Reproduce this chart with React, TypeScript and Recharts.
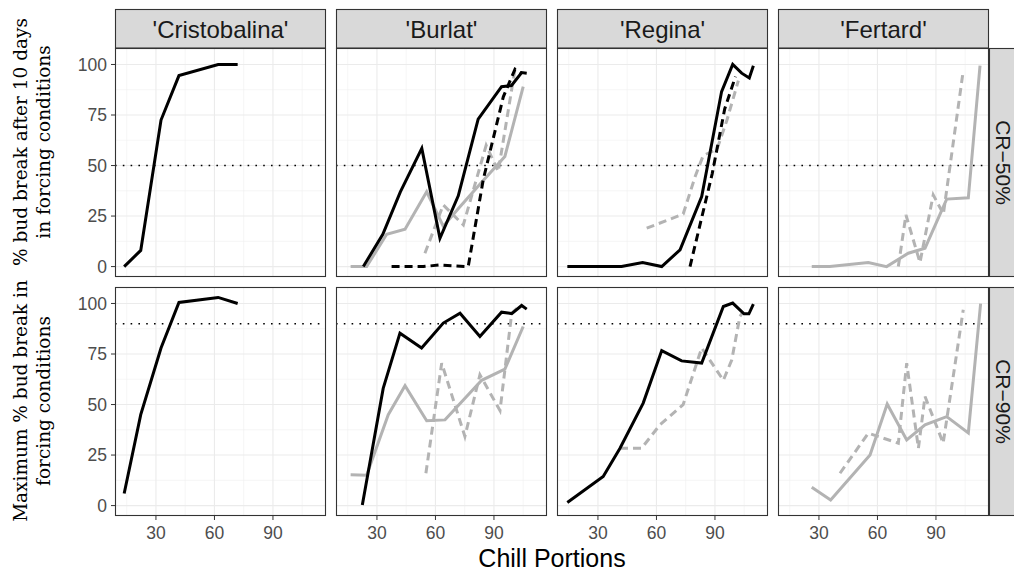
import React from "react";
import { CartesianGrid, Line, LineChart, ReferenceLine, XAxis, YAxis } from "recharts";

type Pt = [number, number];

const cultivars = ["'Cristobalina'", "'Burlat'", "'Regina'", "'Fertard'"];
const rowLabels = ["CR\u221250%", "CR\u221290%"];
const thresholds = [50, 90];
const xTicks = [30, 60, 90];
const xMinor = [15, 45, 75, 105];
const yTicks = [0, 25, 50, 75, 100];
const yMinor = [12.5, 37.5, 62.5, 87.5];

// CR-50% row: [chill portions, % bud break]
const cristobalina50Black: Pt[] = [[13.7, 0], [22.2, 8], [32.6, 72.5], [41.8, 94.5], [61.9, 100], [71.9, 100]];

const burlat50Black: Pt[] = [[23, 0], [33, 16], [42, 37], [53, 58.5], [62.3, 14], [71.7, 35], [81.9, 73], [93.9, 89], [99, 89.6], [104.2, 96], [106.8, 95.7]];
const burlat50Grey: Pt[] = [[16.5, 0], [24.7, 0], [35, 16], [44.4, 18.5], [55.5, 37], [64, 20], [72, 29], [83, 41], [95.6, 54.5], [105, 89]];
const burlat50BlackDash: Pt[] = [[37.5, 0], [53.7, 0], [62.3, 0.8], [70.9, 0.3], [76.8, 0], [84.5, 43], [94.8, 84], [100.8, 97.7], [104, 95.7]];
const burlat50GreyDash: Pt[] = [[54.6, 6.6], [64, 30.5], [74.3, 20.6], [86, 60], [92.2, 47], [100.8, 97.7]];

const regina50Black: Pt[] = [[14.3, 0], [42.1, 0], [52.9, 2], [62.7, 0], [72.1, 8.3], [83.2, 34.7], [93.4, 86.6], [99.1, 100], [103.7, 95.7], [107.6, 93.3], [109.7, 99.4]];
const regina50BlackDash: Pt[] = [[77.2, 0], [88.6, 46], [95, 78], [100.5, 94]];
const regina50GreyDash: Pt[] = [[55, 19], [73.7, 26], [80, 45], [84, 55], [91, 58], [96, 72], [102, 92]];

const fertard50Grey: Pt[] = [[26.3, 0], [35.6, 0], [55.3, 2], [64.7, 0], [75.8, 6.6], [84.4, 9.1], [95.5, 33.4], [106.6, 34], [112.6, 99.4]];
const fertard50GreyDash: Pt[] = [[70.7, 0], [74.6, 25.6], [81.8, 2], [88.6, 35.5], [93.8, 26], [104, 97]];

// CR-90% row
const cristobalina90Black: Pt[] = [[13.7, 6], [22.2, 45], [32.6, 78], [41.8, 100.5], [61.9, 103], [71.9, 100]];

const burlat90Black: Pt[] = [[22.5, 0.3], [33.2, 58], [41.8, 85.3], [52.9, 78], [64, 90.3], [72.6, 95.2], [82.8, 83.7], [93.9, 95.7], [99.1, 95], [104.2, 99], [106.8, 97.2]];
const burlat90Grey: Pt[] = [[16.5, 15.2], [24.7, 15], [35.8, 45], [44.4, 59.3], [55.5, 42], [64.9, 42.4], [83.7, 62], [95.6, 67.5], [105, 88.6]];
const burlat90GreyDash: Pt[] = [[55.1, 16], [63.2, 70.5], [75.1, 34.2], [82.8, 64.7], [93.1, 47], [99.1, 95.2], [103.3, 99]];

const regina90Black: Pt[] = [[14.3, 1.5], [32.7, 14.4], [41.3, 28.4], [53.2, 50.7], [62.7, 76.7], [72.9, 71.6], [83.2, 70.5], [94.3, 98.5], [99.1, 100.2], [104.9, 94.9], [107.4, 94.9], [109.7, 99.7]];
const regina90GreyDash: Pt[] = [[41.3, 28.4], [52.4, 28.4], [61.8, 40], [73.7, 50], [83.2, 78], [94.3, 62], [98.6, 72], [102.8, 93.6], [104.5, 96]];

const fertard90Grey: Pt[] = [[26.3, 9.1], [36, 2.8], [56.2, 25], [65, 50.3], [75, 32.5], [84.4, 40], [95.5, 44], [106.6, 36], [112.9, 99.9]];
const fertard90GreyDash: Pt[] = [[40.8, 16], [55.3, 35.8], [70.7, 30.9], [75, 70.5], [81, 28.4], [84.4, 54], [93.7, 30.9], [104, 96.9]];

const BLACK = "#000000";
const GREY = "#b3b3b3";

type Series = { pts: Pt[]; color: string; dashed: boolean };

const s = (pts: Pt[], color: string, dashed: boolean): Series => ({ pts, color, dashed });

// drawn in order: grey dashed, grey solid, black dashed, black solid
const panels: Series[][][] = [
  [
    [s(cristobalina50Black, BLACK, false)],
    [s(burlat50GreyDash, GREY, true), s(burlat50Grey, GREY, false), s(burlat50BlackDash, BLACK, true), s(burlat50Black, BLACK, false)],
    [s(regina50GreyDash, GREY, true), s(regina50BlackDash, BLACK, true), s(regina50Black, BLACK, false)],
    [s(fertard50GreyDash, GREY, true), s(fertard50Grey, GREY, false)],
  ],
  [
    [s(cristobalina90Black, BLACK, false)],
    [s(burlat90GreyDash, GREY, true), s(burlat90Grey, GREY, false), s(burlat90Black, BLACK, false)],
    [s(regina90GreyDash, GREY, true), s(regina90Black, BLACK, false)],
    [s(fertard90GreyDash, GREY, true), s(fertard90Grey, GREY, false)],
  ],
];

const PANEL_LEFT = [115, 336, 557, 778];
const PANEL_W = 211;
const ROW_TOP = [48, 287];
const PANEL_H = 229;
const X_DOMAIN: [number, number] = [9, 117.2];
const Y_DOMAIN: [number, number] = [-5.15, 108.15];
const Y_AXIS_W = 45;
const X_AXIS_H = 30;

const SANS = "'Liberation Sans', Arimo, Helvetica, Arial, sans-serif";
const SERIF = "'DejaVu Serif', 'Liberation Serif', serif";

const tickStyle = { fill: "#4d4d4d", fontSize: 17.5, fontFamily: SANS };

function Panel({ row, col }: { row: number; col: number }) {
  const showY = col === 0;
  const showX = row === 1;
  const yW = showY ? Y_AXIS_W : 0;
  const xH = showX ? X_AXIS_H : 0;
  return (
    <div style={{ position: "absolute", left: PANEL_LEFT[col] - yW, top: ROW_TOP[row] }}>
      <LineChart width={PANEL_W + yW} height={PANEL_H + xH} margin={{ top: 0, right: 0, bottom: 0, left: 0 }}>
        <CartesianGrid horizontalValues={yMinor} verticalValues={xMinor} stroke="#f0f0f0" strokeWidth={0.6} />
        <CartesianGrid horizontalValues={yTicks} verticalValues={xTicks} stroke="#ebebeb" strokeWidth={1.1} />
        <XAxis
          type="number"
          dataKey="x"
          domain={X_DOMAIN}
          ticks={xTicks}
          interval={0}
          allowDataOverflow
          hide={!showX}
          height={X_AXIS_H}
          axisLine={false}
          tickSize={4}
          tickMargin={7}
          tickLine={{ stroke: "#333333" }}
          tick={tickStyle}
        />
        <YAxis
          type="number"
          domain={Y_DOMAIN}
          ticks={yTicks}
          interval={0}
          allowDataOverflow
          hide={!showY}
          width={Y_AXIS_W}
          axisLine={false}
          tickSize={4}
          tickMargin={4}
          tickLine={{ stroke: "#333333" }}
          tick={tickStyle}
        />
        <ReferenceLine y={thresholds[row]} stroke="#000" strokeWidth={1.4} strokeDasharray="1.6 6.2" />
        {panels[row][col].map((ser, i) => (
          <Line
            key={i}
            data={ser.pts.map(([x, y]) => ({ x, y }))}
            dataKey="y"
            type="linear"
            stroke={ser.color}
            strokeWidth={3}
            strokeDasharray={ser.dashed ? "8 5" : undefined}
            dot={false}
            activeDot={false}
            isAnimationActive={false}
          />
        ))}
      </LineChart>
    </div>
  );
}

export default function App() {
  const rows = [0, 1];
  const cols = [0, 1, 2, 3];
  return (
    <div style={{ position: "absolute", left: 0, top: 0, width: 1014, height: 573, background: "#fff", overflow: "hidden" }}>
      {rows.map((r) => cols.map((c) => <Panel key={`${r}-${c}`} row={r} col={c} />))}
      <svg width={1014} height={573} style={{ position: "absolute", left: 0, top: 0, pointerEvents: "none" }}>
        {rows.map((r) =>
          cols.map((c) => (
            <rect
              key={`b${r}${c}`}
              x={PANEL_LEFT[c] + 0.5}
              y={ROW_TOP[r] + 0.5}
              width={PANEL_W - 1}
              height={PANEL_H - 1}
              fill="none"
              stroke="#333333"
              strokeWidth={1.1}
            />
          ))
        )}
        {cultivars.map((name, c) => (
          <g key={name}>
            <rect x={PANEL_LEFT[c] + 0.5} y={9.5} width={PANEL_W - 1} height={38.5} fill="#d9d9d9" stroke="#333333" strokeWidth={1.1} />
            <text x={PANEL_LEFT[c] + PANEL_W / 2} y={37.5} textAnchor="middle" fontSize={24} fontFamily={SANS} fill="#1a1a1a">
              {name}
            </text>
          </g>
        ))}
        {rowLabels.map((lab, r) => (
          <g key={lab}>
            <rect x={989.5} y={ROW_TOP[r] + 0.5} width={40} height={PANEL_H - 1} fill="#d9d9d9" stroke="#333333" strokeWidth={1.1} />
            <text
              transform={`translate(996,${ROW_TOP[r] + PANEL_H / 2}) rotate(90)`}
              textAnchor="middle"
              fontSize={21}
              fontFamily={SANS}
              fill="#1a1a1a"
            >
              {lab}
            </text>
          </g>
        ))}
        <text transform="translate(27,142) rotate(-90)" textAnchor="middle" fontSize={18.5} fontFamily={SERIF} fill="#000">
          % bud break after 10 days
        </text>
        <text transform="translate(50,142) rotate(-90)" textAnchor="middle" fontSize={18.5} fontFamily={SERIF} fill="#000">
          in forcing conditions
        </text>
        <text transform="translate(27,401) rotate(-90)" textAnchor="middle" fontSize={18.5} fontFamily={SERIF} fill="#000">
          Maximum % bud break in
        </text>
        <text transform="translate(50,401) rotate(-90)" textAnchor="middle" fontSize={18.5} fontFamily={SERIF} fill="#000">
          forcing conditions
        </text>
        <text x={552} y={567} textAnchor="middle" fontSize={25} fontFamily={SANS} fill="#000">
          Chill Portions
        </text>
      </svg>
    </div>
  );
}
